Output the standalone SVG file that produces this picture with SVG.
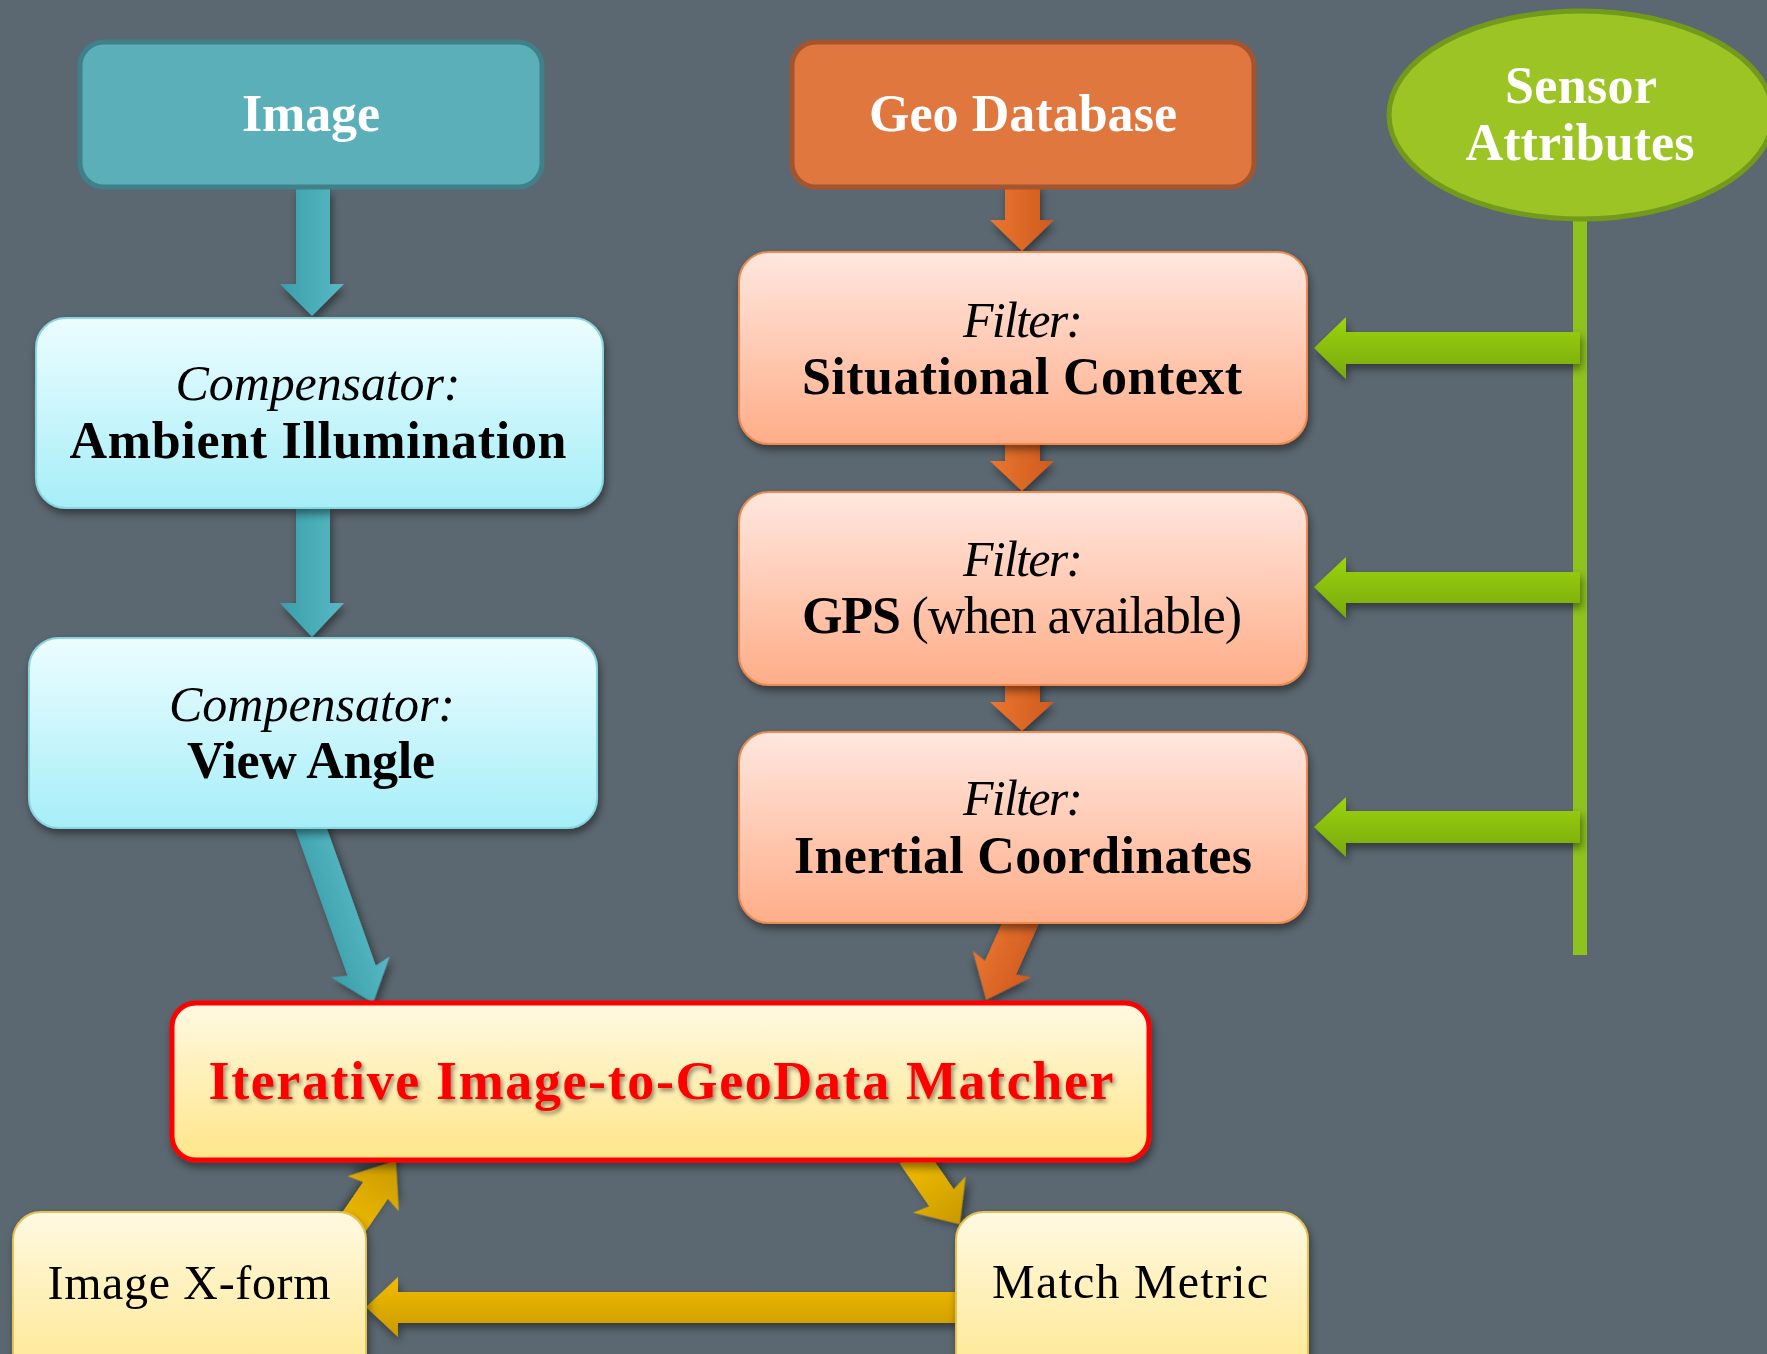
<svg xmlns="http://www.w3.org/2000/svg" width="1767" height="1354" viewBox="0 0 1767 1354">
<defs>
<linearGradient id="gTealBox" x1="0" y1="0" x2="0" y2="1"><stop offset="0" stop-color="#ECFDFF"/><stop offset="1" stop-color="#A6EEF8"/></linearGradient>
<linearGradient id="gSalmon" x1="0" y1="0" x2="0" y2="1"><stop offset="0" stop-color="#FFE7DF"/><stop offset="1" stop-color="#FFAD88"/></linearGradient>
<linearGradient id="gYellow" x1="0" y1="0" x2="0" y2="1"><stop offset="0" stop-color="#FFF9E2"/><stop offset="1" stop-color="#FFE689"/></linearGradient>
<linearGradient id="gTealArrow" x1="0" y1="0" x2="1" y2="0"><stop offset="0" stop-color="#3A9FAA"/><stop offset="1" stop-color="#58B9C4"/></linearGradient>
<linearGradient id="gOrangeArrow" x1="0" y1="0" x2="1" y2="0"><stop offset="0" stop-color="#EA7630"/><stop offset="1" stop-color="#CF5A1E"/></linearGradient>
<linearGradient id="gGreenArrow" x1="0" y1="0" x2="0" y2="1"><stop offset="0" stop-color="#9CD40A"/><stop offset="1" stop-color="#78A812"/></linearGradient>
<linearGradient id="gGoldArrow" x1="0" y1="0" x2="0" y2="1"><stop offset="0" stop-color="#F3BC00"/><stop offset="1" stop-color="#C99A00"/></linearGradient>
<filter id="shadow" x="-10%" y="-10%" width="120%" height="130%"><feDropShadow dx="2" dy="5" stdDeviation="4" flood-color="#000" flood-opacity="0.45"/></filter>
<filter id="tshadow" x="-5%" y="-20%" width="110%" height="150%"><feDropShadow dx="2" dy="3" stdDeviation="2" flood-color="#000" flood-opacity="0.45"/></filter>
</defs>
<style>
.t{font-family:"Liberation Serif","Times New Roman",serif;text-anchor:middle;}
.b{font-weight:bold;}
.i{font-style:italic;}
.w{fill:#FFFFFF;}
.k{fill:#000000;}
</style>
<rect x="0" y="0" width="1767" height="1354" fill="#5C6871"/>

<g id="connectors">
  <!-- teal -->
  <polygon points="296,188 330,188 330,284 344,284 312,316 280,284 296,284" fill="url(#gTealArrow)" filter="url(#shadow)"/>
  <polygon points="296,508 330,508 330,603 344,603 312,637 280,603 296,603" fill="url(#gTealArrow)" filter="url(#shadow)"/>
  <g transform="translate(308,820) rotate(-19.6)"><polygon points="-15,0 15,0 15,160 31,156 0,194 -31,156 -15,160" fill="url(#gTealArrow)" filter="url(#shadow)"/></g>
  <!-- orange -->
  <polygon points="1005,184 1040,184 1040,220 1054,220 1022,251 990,220 1005,220" fill="url(#gOrangeArrow)" filter="url(#shadow)"/>
  <polygon points="1005,424 1040,424 1040,461 1054,461 1022,491 990,461 1005,461" fill="url(#gOrangeArrow)" filter="url(#shadow)"/>
  <polygon points="1005,673 1040,673 1040,702 1054,702 1022,731 990,702 1005,702" fill="url(#gOrangeArrow)" filter="url(#shadow)"/>
  <g transform="translate(1025,913) rotate(24.1)"><polygon points="-17,0 17,0 17,60 32,56 0,95 -32,56 -17,60" fill="url(#gOrangeArrow)" filter="url(#shadow)"/></g>
  <!-- green -->
  <rect x="1573" y="219" width="14" height="736" fill="#8DC21F"/>
  <polygon points="1580,332 1346,332 1346,317 1314,348 1346,379 1346,364 1580,364" fill="url(#gGreenArrow)" filter="url(#shadow)"/>
  <polygon points="1580,572 1346,572 1346,557 1314,587 1346,618 1346,603 1580,603" fill="url(#gGreenArrow)" filter="url(#shadow)"/>
  <polygon points="1580,811 1346,811 1346,797 1314,827 1346,857 1346,843 1580,843" fill="url(#gGreenArrow)" filter="url(#shadow)"/>
  <!-- gold -->
  <polygon points="956,1292 398,1292 398,1277 366,1307 398,1337 398,1323 956,1323" fill="url(#gGoldArrow)" filter="url(#shadow)"/>
  <g transform="translate(345,1235) rotate(-145.6)"><polygon points="-15,0 15,0 15,54 31,50 0,90 -31,50 -15,54" fill="url(#gGoldArrow)" filter="url(#shadow)"/></g>
  <g transform="translate(912,1155) rotate(-34.6)"><polygon points="-15,0 15,0 15,52 32,48 0,84 -32,48 -15,52" fill="url(#gGoldArrow)" filter="url(#shadow)"/></g>
</g>

<g id="node-image">
  <rect x="80" y="42" width="462" height="145" rx="24" fill="#5AAFB8" stroke="#3F8089" stroke-width="5"/>
  <text class="t b w" x="311" y="131" font-size="52" textLength="138">Image</text>
</g>
<g id="node-geo">
  <rect x="792" y="42" width="462" height="145" rx="24" fill="#E0773E" stroke="#A4552F" stroke-width="5"/>
  <text class="t b w" x="1023" y="131" font-size="52" textLength="308">Geo Database</text>
</g>
<g id="node-sensor">
  <ellipse cx="1581" cy="115" rx="192" ry="104" fill="#9BC424" stroke="#739A1A" stroke-width="5"/>
  <text class="t b w" x="1581" y="103" font-size="52" textLength="152">Sensor</text>
  <text class="t b w" x="1580" y="160" font-size="52" textLength="229">Attributes</text>
</g>
<g id="node-comp1" filter="url(#shadow)">
  <rect x="36" y="318" width="567" height="190" rx="30" fill="url(#gTealBox)" stroke="#8AD6E0" stroke-width="2"/>
  <text class="t i k" x="318" y="400" font-size="50" textLength="285">Compensator:</text>
  <text class="t b k" x="318" y="458" font-size="52" textLength="497">Ambient Illumination</text>
</g>
<g id="node-comp2" filter="url(#shadow)">
  <rect x="29" y="638" width="568" height="190" rx="30" fill="url(#gTealBox)" stroke="#8AD6E0" stroke-width="2"/>
  <text class="t i k" x="312" y="721" font-size="50" textLength="286">Compensator:</text>
  <text class="t b k" x="311" y="778" font-size="52" textLength="248">View Angle</text>
</g>
<g id="node-filter1" filter="url(#shadow)">
  <rect x="739" y="252" width="568" height="192" rx="30" fill="url(#gSalmon)" stroke="#EE8A50" stroke-width="2"/>
  <text class="t i k" x="1023" y="337" font-size="50" textLength="120">Filter:</text>
  <text class="t b k" x="1022" y="394" font-size="52" textLength="440">Situational Context</text>
</g>
<g id="node-filter2" filter="url(#shadow)">
  <rect x="739" y="492" width="568" height="193" rx="30" fill="url(#gSalmon)" stroke="#EE8A50" stroke-width="2"/>
  <text class="t i k" x="1023" y="576" font-size="50" textLength="120">Filter:</text>
  <text class="t k" x="1022" y="633" font-size="52" textLength="440"><tspan class="b">GPS</tspan> (when available)</text>
</g>
<g id="node-filter3" filter="url(#shadow)">
  <rect x="739" y="732" width="568" height="191" rx="30" fill="url(#gSalmon)" stroke="#EE8A50" stroke-width="2"/>
  <text class="t i k" x="1023" y="815" font-size="50" textLength="120">Filter:</text>
  <text class="t b k" x="1023" y="873" font-size="52" textLength="458">Inertial Coordinates</text>
</g>
<g id="node-matcher">
  <rect x="172" y="1003" width="977" height="157" rx="24" fill="url(#gYellow)" stroke="#FF0000" stroke-width="5" filter="url(#shadow)"/>
  <text class="t b" x="661" y="1099" font-size="54" fill="#FF0000" textLength="905" filter="url(#tshadow)">Iterative Image-to-GeoData Matcher</text>
</g>
<g id="node-xform" filter="url(#shadow)">
  <rect x="13" y="1212" width="353" height="180" rx="28" fill="url(#gYellow)" stroke="#E2C254" stroke-width="2"/>
  <text class="t k" x="189" y="1299" font-size="48" textLength="283">Image X-form</text>
</g>
<g id="node-metric" filter="url(#shadow)">
  <rect x="956" y="1212" width="352" height="180" rx="28" fill="url(#gYellow)" stroke="#E2C254" stroke-width="2"/>
  <text class="t k" x="1130" y="1298" font-size="48" textLength="276">Match Metric</text>
</g>
</svg>
